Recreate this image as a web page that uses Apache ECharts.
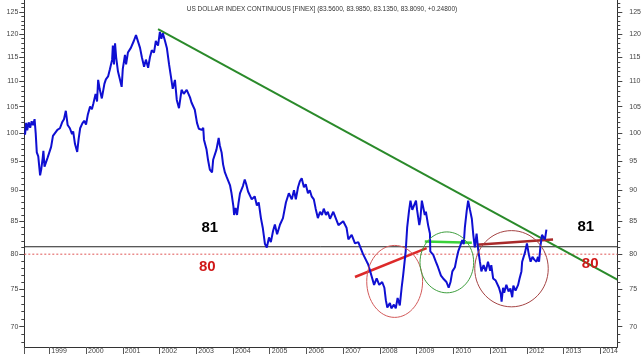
<!DOCTYPE html>
<html>
<head>
<meta charset="utf-8">
<script src="https://cdn.jsdelivr.net/npm/echarts@6.0.0/dist/echarts.min.js"></script>
<style>
html, body { margin: 0; padding: 0; background: #fff; }
#chart { width: 644px; height: 355px; }
</style>
</head>
<body>
<div id="chart"></div>
<script>
var years = [1999, 2000, 2001, 2002, 2003, 2004, 2005, 2006, 2007, 2008, 2009, 2010, 2011, 2012, 2013, 2014];
var yTicks = [70, 75, 80, 85, 90, 95, 100, 105, 110, 115, 120, 125];
var yMinor = [];
for (var m = 68; m <= 127; m++) yMinor.push(m);

// US dollar index, [decimal year, value]
var dxy = [
    [1998.34, 99.7], [1998.37, 101.9], [1998.40, 100.5], [1998.44, 102.0], [1998.48, 101.0], [1998.52, 102.2],
    [1998.56, 101.5], [1998.60, 102.6], [1998.63, 100.0], [1998.66, 96.5], [1998.70, 95.8], [1998.75, 92.5],
    [1998.78, 93.5], [1998.82, 95.5], [1998.84, 96.8], [1998.87, 94.0], [1998.91, 94.3], [1998.95, 95.5],
    [1999.00, 95.3], [1999.05, 97.5], [1999.10, 99.5], [1999.15, 99.8], [1999.22, 100.6], [1999.29, 100.9],
    [1999.35, 102.0], [1999.40, 102.6], [1999.45, 104.2], [1999.50, 101.5], [1999.56, 100.9], [1999.62, 99.8],
    [1999.65, 100.3], [1999.70, 98.0], [1999.76, 96.6], [1999.80, 99.0], [1999.84, 100.9], [1999.90, 101.8],
    [1999.95, 102.3], [2000.00, 101.6], [2000.05, 103.5], [2000.11, 105.0], [2000.16, 104.5], [2000.20, 105.6],
    [2000.26, 107.5], [2000.30, 106.0], [2000.33, 110.3], [2000.37, 108.5], [2000.43, 106.6], [2000.50, 109.5],
    [2000.54, 110.4], [2000.60, 111.0], [2000.65, 112.5], [2000.71, 114.5], [2000.73, 117.5], [2000.76, 113.5],
    [2000.79, 118.0], [2000.82, 115.0], [2000.87, 112.0], [2000.92, 110.5], [2000.97, 108.9], [2001.00, 112.5],
    [2001.06, 115.5], [2001.09, 113.5], [2001.14, 116.0], [2001.22, 117.0], [2001.30, 118.5], [2001.36, 119.8],
    [2001.41, 119.5], [2001.47, 117.0], [2001.52, 115.0], [2001.58, 113.0], [2001.63, 114.5], [2001.69, 112.8],
    [2001.74, 115.0], [2001.79, 116.5], [2001.85, 116.0], [2001.90, 118.5], [2001.96, 117.5], [2002.01, 120.5],
    [2002.05, 119.0], [2002.09, 120.2], [2002.15, 118.5], [2002.20, 117.0], [2002.26, 113.5], [2002.31, 111.0],
    [2002.36, 108.5], [2002.42, 110.3], [2002.47, 106.3], [2002.53, 104.7], [2002.60, 108.3], [2002.66, 107.5],
    [2002.74, 108.3], [2002.78, 108.6], [2002.83, 106.8], [2002.87, 105.8], [2002.96, 104.4], [2003.02, 101.9],
    [2003.07, 100.8], [2003.15, 100.6], [2003.19, 101.0], [2003.21, 98.8], [2003.28, 97.0], [2003.32, 95.2],
    [2003.37, 93.5], [2003.43, 93.0], [2003.46, 95.2], [2003.55, 97.0], [2003.61, 99.1], [2003.64, 97.8],
    [2003.69, 96.5], [2003.73, 94.4], [2003.78, 93.0], [2003.83, 92.2], [2003.92, 90.8], [2003.96, 89.5],
    [2004.01, 87.4], [2004.03, 86.0], [2004.07, 87.1], [2004.10, 87.4], [2004.11, 86.0], [2004.15, 87.9],
    [2004.19, 89.5], [2004.23, 89.8], [2004.27, 90.7], [2004.32, 91.8], [2004.36, 91.0], [2004.41, 89.8],
    [2004.46, 89.5], [2004.51, 88.5], [2004.59, 89.0], [2004.65, 87.5], [2004.70, 88.0], [2004.76, 85.5],
    [2004.81, 84.0], [2004.87, 81.5], [2004.92, 81.0], [2004.98, 82.5], [2005.03, 81.8], [2005.09, 83.5],
    [2005.14, 84.5], [2005.20, 83.0], [2005.28, 84.5], [2005.36, 85.5], [2005.44, 88.0], [2005.52, 89.5],
    [2005.60, 88.5], [2005.66, 90.0], [2005.71, 88.5], [2005.77, 90.5], [2005.82, 91.5], [2005.87, 92.0],
    [2005.93, 90.5], [2005.98, 91.0], [2006.04, 89.5], [2006.09, 90.0], [2006.14, 89.0], [2006.20, 88.5],
    [2006.25, 87.0], [2006.31, 85.5], [2006.37, 86.5], [2006.42, 86.0], [2006.47, 87.0], [2006.53, 86.0],
    [2006.58, 86.5], [2006.64, 85.4], [2006.73, 86.5], [2006.78, 86.8], [2006.87, 84.4], [2007.00, 85.0],
    [2007.09, 84.0], [2007.14, 82.2], [2007.23, 82.9], [2007.32, 81.6], [2007.41, 81.8], [2007.54, 80.0],
    [2007.68, 78.5], [2007.73, 77.6], [2007.84, 75.6], [2007.91, 76.5], [2007.98, 75.6], [2008.06, 76.0],
    [2008.12, 75.2], [2008.16, 73.5], [2008.20, 72.5], [2008.27, 73.1], [2008.31, 72.4], [2008.38, 72.9],
    [2008.43, 72.4], [2008.48, 73.8], [2008.54, 72.8], [2008.59, 75.2], [2008.63, 76.9], [2008.70, 80.4],
    [2008.74, 84.0], [2008.79, 86.6], [2008.83, 88.3], [2008.88, 86.8], [2008.92, 86.5], [2008.98, 88.3],
    [2009.01, 86.8], [2009.07, 84.4], [2009.10, 85.4], [2009.14, 88.3], [2009.16, 88.5], [2009.22, 86.0],
    [2009.25, 86.5], [2009.31, 84.4], [2009.36, 83.1], [2009.37, 80.4], [2009.45, 79.9], [2009.52, 78.9],
    [2009.58, 78.1], [2009.66, 76.9], [2009.72, 76.5], [2009.81, 76.0], [2009.87, 75.2], [2009.92, 76.0],
    [2009.97, 77.5], [2010.04, 78.1], [2010.08, 79.2], [2010.13, 80.4], [2010.17, 81.0], [2010.24, 82.1],
    [2010.28, 81.5], [2010.31, 84.0], [2010.36, 86.6], [2010.40, 88.3], [2010.45, 86.8], [2010.50, 85.4],
    [2010.54, 82.9], [2010.58, 81.0], [2010.63, 83.1], [2010.67, 80.8], [2010.72, 78.9], [2010.76, 77.5],
    [2010.82, 78.4], [2010.88, 77.5], [2010.94, 78.9], [2011.00, 77.6], [2011.03, 78.4], [2011.08, 76.5],
    [2011.15, 76.2], [2011.20, 76.0], [2011.24, 75.2], [2011.29, 74.3], [2011.31, 73.3], [2011.35, 75.2],
    [2011.38, 74.5], [2011.44, 75.6], [2011.50, 74.7], [2011.55, 75.1], [2011.60, 73.9], [2011.63, 75.5],
    [2011.69, 74.8], [2011.76, 75.6], [2011.80, 76.5], [2011.85, 77.5], [2011.87, 78.9], [2011.95, 80.3],
    [2012.00, 81.6], [2012.05, 80.0], [2012.10, 78.9], [2012.15, 79.6], [2012.20, 79.2], [2012.26, 78.9],
    [2012.30, 79.6], [2012.33, 78.9], [2012.37, 81.3], [2012.41, 82.9], [2012.46, 82.6], [2012.49, 82.2],
    [2012.53, 83.7]
];

// hand drawn annotations
var downTrend = [[2001.96, 121.1], [2014.46, 76.35]];
var redTrend = [[2007.32, 76.7], [2009.27, 80.9]];
var greenFlat = [[2009.22, 81.9], [2010.50, 81.7]];
var darkRedTrend = [[2010.63, 81.4], [2012.71, 82.2]];
var level81 = [[1998.32, 81.1], [2014.46, 81.1]];
var level80 = [[1998.32, 80.0], [2014.46, 80.0]];
// [left year, right year, bottom value, top value, colour]
var rings = [
    [2007.64, 2009.16, 71.2, 81.3, '#d35a5a'],
    [2009.09, 2010.55, 74.5, 83.35, '#3f9f3f'],
    [2010.58, 2012.58, 72.6, 83.55, '#a54444']
];
var tags81 = [[2003.37, 84.0], [2013.60, 84.1]];
var tags80 = [[2003.30, 78.1], [2013.72, 78.6]];

var xMin = 1998.32, xMax = 2014.46;
var yMin = 67.42, yMax = 127.8;

var chart = echarts.init(document.getElementById('chart'));

function yAxisBase(pos, major, margin) {
    return {
        type: 'log',
        logBase: 10,
        position: pos,
        min: yMin,
        max: yMax,
        axisLine: { show: major, lineStyle: { color: '#333', width: 1 } },
        axisTick: {
            show: true,
            customValues: major ? yTicks : yMinor,
            length: major ? 5 : 3,
            lineStyle: { color: '#444' }
        },
        axisLabel: {
            show: major,
            customValues: yTicks,
            fontSize: 7,
            fontFamily: 'Liberation Sans',
            color: '#444',
            margin: margin
        },
        splitLine: { show: false },
        minorTick: { show: false }
    };
}

function flatLine(data, color, width, type) {
    return {
        type: 'line',
        data: data,
        showSymbol: false,
        silent: true,
        lineStyle: { color: color, width: width, type: type || 'solid' },
        z: 3
    };
}

function tagSeries(data, text, color) {
    return {
        type: 'scatter',
        data: data,
        symbolSize: 0,
        silent: true,
        itemStyle: { opacity: 1 },
        z: 6,
        label: {
            show: true, position: 'inside', formatter: text, opacity: 1,
            fontSize: 15, fontWeight: 'bold', color: color, fontFamily: 'Liberation Sans'
        }
    };
}

var option = {
    animation: false,
    backgroundColor: '#fff',
    title: {
        text: 'US DOLLAR INDEX CONTINUOUS [FINEX] (83.5600, 83.9850, 83.1350, 83.8090, +0.24800)',
        left: 'center',
        top: 1,
        textStyle: { fontSize: 6.5, fontWeight: 'normal', color: '#333', fontFamily: 'Liberation Sans' }
    },
    grid: { left: 24.3, right: 26.3, top: 0, bottom: 7.3 },
    xAxis: {
        type: 'value',
        min: xMin,
        max: xMax,
        axisLine: { lineStyle: { color: '#333', width: 1 } },
        axisTick: {
            customValues: [xMin].concat(years),
            length: 7,
            lineStyle: { color: '#555' }
        },
        axisLabel: {
            customValues: years,
            formatter: function (v) { return String(Math.round(v)); },
            align: 'left',
            padding: [0, 0, 0, 2],
            margin: 1,
            fontSize: 7,
            fontFamily: 'Liberation Sans',
            color: '#444'
        },
        splitLine: { show: false }
    },
    yAxis: [
        yAxisBase('left', true, 6),
        yAxisBase('left', false, 6),
        yAxisBase('right', true, 12),
        yAxisBase('right', false, 12)
    ],
    series: [
        flatLine(level81, '#222', 1),
        flatLine(level80, '#e05555', 1, [2, 2]),
        {
            type: 'line',
            data: dxy,
            showSymbol: false,
            silent: true,
            lineStyle: { color: '#0f0fd2', width: 2 },
            z: 4
        },
        flatLine(downTrend, '#2a8a2a', 2),
        flatLine(redTrend, '#dd2a2a', 2.5),
        flatLine(greenFlat, '#3ad23a', 2.5),
        flatLine(darkRedTrend, '#a82a2a', 2.5),
        {
            type: 'custom',
            silent: true,
            data: rings,
            z: 5,
            renderItem: function (params, api) {
                var a = api.coord([api.value(0), api.value(3)]);
                var b = api.coord([api.value(1), api.value(2)]);
                return {
                    type: 'ellipse',
                    shape: {
                        cx: (a[0] + b[0]) / 2,
                        cy: (a[1] + b[1]) / 2,
                        rx: Math.abs(b[0] - a[0]) / 2,
                        ry: Math.abs(b[1] - a[1]) / 2
                    },
                    style: { fill: 'none', stroke: rings[params.dataIndex][4], lineWidth: 1 }
                };
            }
        },
        tagSeries(tags81, '81', '#000'),
        tagSeries(tags80, '80', '#d01818')
    ]
};

chart.setOption(option);
</script>
</body>
</html>
